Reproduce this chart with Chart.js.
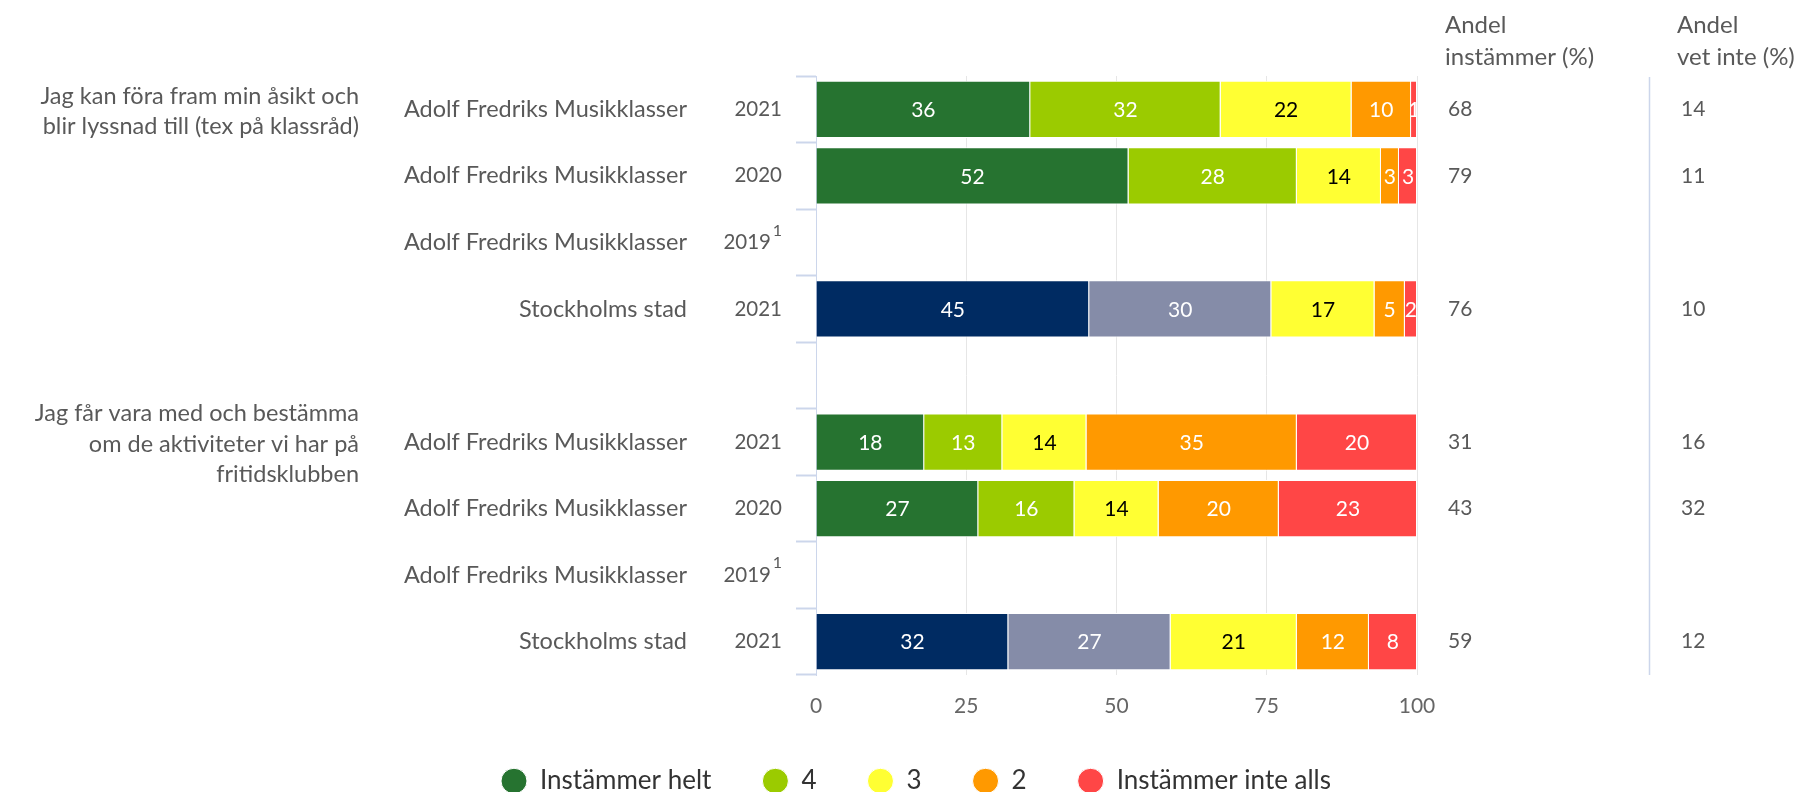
<!DOCTYPE html>
<html lang="sv">
<head>
<meta charset="utf-8">
<title>Delaktighet</title>
<script src="https://cdn.jsdelivr.net/npm/chart.js@4/dist/chart.umd.min.js"></script>
<style>
  html, body { margin: 0; padding: 0; background: #fff; }
  #wrap { width: 1804px; height: 792px; }
</style>
</head>
<body>
<div id="wrap"><canvas id="chart" width="1804" height="792"></canvas></div>
<script>
// rader i diagrammet (tom rad mellan frågorna)
const schools = ['Adolf Fredriks Musikklasser', 'Adolf Fredriks Musikklasser', 'Adolf Fredriks Musikklasser', 'Stockholms stad', '',
                 'Adolf Fredriks Musikklasser', 'Adolf Fredriks Musikklasser', 'Adolf Fredriks Musikklasser', 'Stockholms stad'];
const years = ['2021', '2020', '2019', '2021', '', '2021', '2020', '2019', '2021'];
const footnoteRows = [2, 7];
const cityRows = [3, 8];

const questions = [
    ['Jag kan föra fram min åsikt och', 'blir lyssnad till (tex på klassråd)'],
    ['Jag får vara med och bestämma', 'om de aktiviteter vi har på', 'fritidsklubben']
];
const questionRows = [0, 5];

const seriesNames = ['Instämmer helt', '4', '3', '2', 'Instämmer inte alls'];
const instammerHelt = [36, 52, null, 45, null, 18, 27, null, 32];
const fyra          = [32, 28, null, 30, null, 13, 16, null, 27];
const tre           = [22, 14, null, 17, null, 14, 14, null, 21];
const tva           = [10, 3, null, 5, null, 35, 20, null, 12];
const inteAlls      = [1, 3, null, 2, null, 20, 23, null, 8];

const andelInstammer = [68, 79, null, 76, null, 31, 43, null, 59];
const andelVetInte   = [14, 11, null, 10, null, 16, 32, null, 12];

const xTicks = [0, 25, 50, 75, 100];

const colors = ['#267330', '#9bcb00', '#ffff33', '#ff9900', '#ff4646'];
const cityColors = ['#002b62', '#858ca8', '#ffff33', '#ff9900', '#ff4646'];
const labelColors = ['#fff', '#fff', '#000', '#fff', '#fff'];

const series = [instammerHelt, fyra, tre, tva, inteAlls];
const FONT = 'Lato, "Noto Sans", sans-serif';
const textGray = '#595959';

// staplarna visas som andel av radens summa (procentstapling)
const rowTotal = i => series.reduce((s, arr) => s + (arr[i] || 0), 0);
const toPercent = arr => arr.map((v, i) => v == null ? null : v / rowTotal(i) * 100);

const datasets = series.map((arr, k) => ({
    label: seriesNames[k],
    data: toPercent(arr),
    backgroundColor: arr.map((v, i) => cityRows.includes(i) ? cityColors[k] : colors[k]),
    borderColor: '#ffffff',
    borderWidth: 1,
    categoryPercentage: 0.86,
    barPercentage: 1
}));

const valueLabels = {
    id: 'valueLabels',
    afterDatasetsDraw(chart) {
        const ctx = chart.ctx;
        ctx.save();
        ctx.font = '21px ' + FONT;
        ctx.textAlign = 'center';
        ctx.textBaseline = 'middle';
        chart.data.datasets.forEach((ds, k) => {
            chart.getDatasetMeta(k).data.forEach((bar, i) => {
                const raw = series[k][i];
                if (raw == null) return;
                const p = bar.getProps(['x', 'y', 'base', 'height'], true);
                const left = Math.min(p.x, p.base), w = Math.abs(p.x - p.base);
                ctx.save();
                ctx.beginPath();
                ctx.rect(left, p.y - p.height / 2, w, p.height);
                ctx.clip();
                ctx.fillStyle = labelColors[k];
                ctx.fillText(String(raw), left + w / 2, p.y + 1);
                ctx.restore();
            });
        });
        ctx.restore();
    }
};

const sideTexts = {
    id: 'sideTexts',
    afterDraw(chart) {
        const {ctx, chartArea, scales: {y}} = chart;
        const L = chartArea.left;
        ctx.save();
        ctx.textBaseline = 'middle';
        ctx.fillStyle = textGray;

        // frågor
        ctx.font = '23.5px ' + FONT;
        ctx.textAlign = 'right';
        questions.forEach((lines, q) => {
            const cy = y.getPixelForValue(questionRows[q]) + 2;
            const lh = 30.5;
            lines.forEach((t, j) => {
                ctx.fillText(t, L - 457, cy + (j - (lines.length - 1) / 2) * lh);
            });
        });

        // skola och år
        schools.forEach((s, i) => {
            if (!s) return;
            const cy = y.getPixelForValue(i);
            ctx.font = '23.5px ' + FONT;
            ctx.textAlign = 'right';
            ctx.fillText(s, L - 129, cy);
            ctx.font = '20.5px ' + FONT;
            if (footnoteRows.includes(i)) {
                ctx.fillText(years[i], L - 45, cy);
                ctx.font = '16px ' + FONT;
                ctx.fillText('1', L - 34, cy - 12);
            } else {
                ctx.fillText(years[i], L - 34, cy);
            }
        });

        // högerkolumner
        const c1 = chartArea.right + 28, c2 = chartArea.right + 260;
        ctx.font = '24px ' + FONT;
        ctx.textAlign = 'left';
        ctx.fillText('Andel', c1, 25);
        ctx.fillText('instämmer (%)', c1, 57);
        ctx.fillText('Andel', c2, 25);
        ctx.fillText('vet inte (%)', c2, 57);
        ctx.font = '21px ' + FONT;
        andelInstammer.forEach((v, i) => {
            if (v == null) return;
            const cy = y.getPixelForValue(i);
            ctx.fillText(String(v), c1 + 3, cy);
            ctx.fillText(String(andelVetInte[i]), c2 + 4, cy);
        });

        // skiljelinje
        ctx.strokeStyle = '#ccd6eb';
        ctx.lineWidth = 1.5;
        ctx.beginPath();
        ctx.moveTo(chartArea.right + 232.5, chartArea.top + 1);
        ctx.lineTo(chartArea.right + 232.5, chartArea.bottom);
        ctx.stroke();
        ctx.restore();
    }
};

new Chart(document.getElementById('chart'), {
    type: 'bar',
    data: { labels: schools.map((s, i) => s + ' ' + years[i]), datasets },
    options: {
        indexAxis: 'y',
        responsive: false,
        animation: false,
        devicePixelRatio: 1,
        layout: { padding: { top: 76, left: 28, right: 0, bottom: -12 } },
        scales: {
            x: {
                stacked: true,
                min: 0,
                max: 100,
                afterBuildTicks: s => { s.ticks = xTicks.map(v => ({ value: v })); },
                grid: { color: '#e6e6e6', lineWidth: 1, drawTicks: false },
                border: { display: false },
                ticks: { color: '#666', font: { family: FONT, size: 21 }, padding: 19 },
                afterFit: s => { s.height = 42; }
            },
            y: {
                stacked: true,
                grid: { drawOnChartArea: false, tickLength: 20, tickWidth: 2, tickColor: '#ccd6eb', color: '#ccd6eb' },
                border: { display: true, color: '#ccd6eb', width: 1 },
                ticks: { display: false, autoSkip: false },
                afterFit: s => { s.width = 788; }
            },
            y2: {
                type: 'category',
                position: 'right',
                grid: { display: false },
                border: { display: false },
                ticks: { display: false },
                afterFit: s => { s.width = 387; }
            }
        },
        plugins: {
            tooltip: { enabled: false },
            legend: {
                position: 'bottom',
                labels: {
                    usePointStyle: true,
                    pointStyle: 'circle',
                    pointStyleWidth: 26,
                    boxHeight: 18,
                    padding: 51,
                    color: '#333',
                    font: { family: FONT, size: 26 }
                }
            }
        }
    },
    plugins: [valueLabels, sideTexts]
});
</script>
</body>
</html>
